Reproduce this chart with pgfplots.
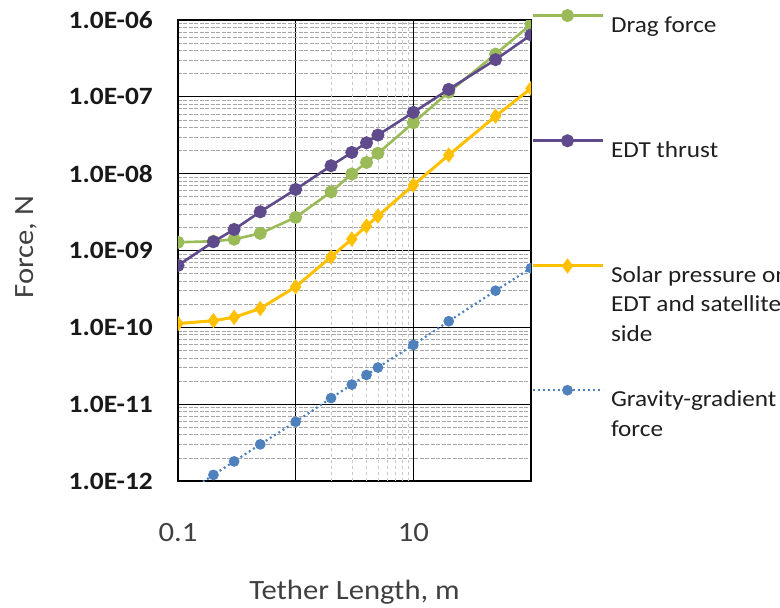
\documentclass[border=0pt]{standalone}
\usepackage{pgfplots}
\usepackage{pgfplotstable}
\pgfplotsset{compat=1.18}
\usepackage{fontspec}
\setmainfont{Carlito}[FakeStretch=1.1]
\definecolor{cgreen}{HTML}{9BBB59}
\definecolor{cpurple}{HTML}{5F4B8B}
\definecolor{cyellow}{HTML}{FFC000}
\definecolor{cblue}{HTML}{4F81BD}
\pgfplotstableread{
L      drag     edt      solar     grav
0.1    1.28e-9  6.4e-10  1.12e-10  5.9e-13
0.2    1.32e-9  1.30e-9  1.22e-10  1.2e-12
0.3    1.40e-9  1.88e-9  1.35e-10  1.8e-12
0.5    1.67e-9  3.19e-9  1.76e-10  3.0e-12
1      2.70e-9  6.24e-9  3.37e-10  5.9e-12
2      5.8e-9   1.27e-8  8.27e-10  1.2e-11
3      9.9e-9   1.89e-8  1.41e-9   1.8e-11
4      1.40e-8  2.52e-8  2.08e-9   2.4e-11
5      1.84e-8  3.18e-8  2.81e-9   3.0e-11
10     4.6e-8   6.28e-8  7.1e-9    5.9e-11
20     1.15e-7  1.25e-7  1.75e-8   1.2e-10
50     3.6e-7   3.05e-7  5.6e-8    3.0e-10
100    8.8e-7   6.4e-7   1.29e-7   5.9e-10
}\datatable
\begin{document}
\begin{tikzpicture}
\begin{axis}[
  name=ax,
  width=353bp, height=461bp, scale only axis,
  xmode=log, ymode=log,
  xmin=0.1, xmax=100, ymin=1e-12, ymax=1e-6,
  xtick={0.1,1,10,100}, xticklabels={0.1,,10,},
  ytick={1e-12,1e-11,1e-10,1e-9,1e-8,1e-7,1e-6},
  yticklabels={1.0E-12,1.0E-11,1.0E-10,1.0E-09,1.0E-08,1.0E-07,1.0E-06},
  minor ytick={2e-12,3e-12,4e-12,5e-12,6e-12,7e-12,8e-12,9e-12,
               2e-11,3e-11,4e-11,5e-11,6e-11,7e-11,8e-11,9e-11,
               2e-10,3e-10,4e-10,5e-10,6e-10,7e-10,8e-10,9e-10,
               2e-9,3e-9,4e-9,5e-9,6e-9,7e-9,8e-9,9e-9,
               2e-8,3e-8,4e-8,5e-8,6e-8,7e-8,8e-8,9e-8,
               2e-7,3e-7,4e-7,5e-7,6e-7,7e-7,8e-7,9e-7},
  minor xtick={},
  extra x ticks={2,3,4,5,6,7,8,9},
  extra x tick labels={},
  extra x tick style={grid=major, major grid style={black!22, dash pattern=on 3bp off 3bp, line width=0.6bp}},
  major tick length=0pt, minor tick length=0pt,
  xmajorgrids, ymajorgrids, yminorgrids,
  major grid style={black, line width=1.2bp},
  minor grid style={black!35, dash pattern=on 4bp off 1.5bp, line width=0.7bp},
  axis line style={black, line width=1.2bp},
  yticklabel style={font=\fontsize{25}{25}\selectfont\bfseries, text=black!90, inner sep=0pt, xshift=-25bp},
  xticklabel style={font=\fontsize{28}{28}\selectfont, text=black!75, inner sep=0pt, yshift=-42bp},
  xlabel={Tether Length, m},
  xlabel style={at={(axis description cs:0.5,-0.2408)}, anchor=center, font=\fontsize{28}{28}\selectfont, text=black!75},
  ylabel={Force, N},
  ylabel style={at={(axis description cs:-0.4306,0.5076)}, anchor=center, font=\fontsize{28}{28}\selectfont, text=black!75},
  clip marker paths=true,
  legend style={at={(1,1.021)}, anchor=north west, draw=none, fill=none,
    inner sep=0pt, outer sep=0pt, column sep=7bp, row sep=102bp,
    nodes={inner sep=0pt, outer sep=0pt},
    font=\fontsize{23}{29.5}\selectfont, text=black!88},
  legend cell align=left,
  legend image code/.code={\draw[mark repeat=2,mark phase=2] plot coordinates {(0bp,7bp) (35bp,7bp) (70bp,7bp)};},
]
\addplot[color=cgreen, line width=2.6bp, mark=*, mark size=5.2bp, mark options={solid, fill=cgreen}] table[x=L, y=drag] {\datatable};
\addlegendentry{\parbox[t]{250bp}{\strut Drag force}}
\addplot[color=cpurple, line width=2.6bp, mark=*, mark size=5.2bp, mark options={solid, fill=cpurple}] table[x=L, y=edt] {\datatable};
\addlegendentry{\parbox[t]{250bp}{\strut EDT thrust}}
\addplot[color=cyellow, line width=3bp, mark=diamond*, mark size=5.2bp, mark options={solid, fill=cyellow}] table[x=L, y=solar] {\datatable};
\addlegendentry{\parbox[t]{250bp}{\strut Solar pressure on\\EDT and satellite\\side}}
\addplot[color=cblue, line width=2.2bp, dash pattern=on 2bp off 3bp, mark=*, mark size=4.2bp, mark options={solid, fill=cblue}] table[x=L, y=grav] {\datatable};
\addlegendentry{\parbox[t]{250bp}{\strut Gravity-gradient\\force}}
\end{axis}
\pgfresetboundingbox
\path[use as bounding box] ([xshift=-178bp,yshift=-127bp]ax.south west) rectangle ([xshift=249bp,yshift=20bp]ax.north east);
\end{tikzpicture}
\end{document}
